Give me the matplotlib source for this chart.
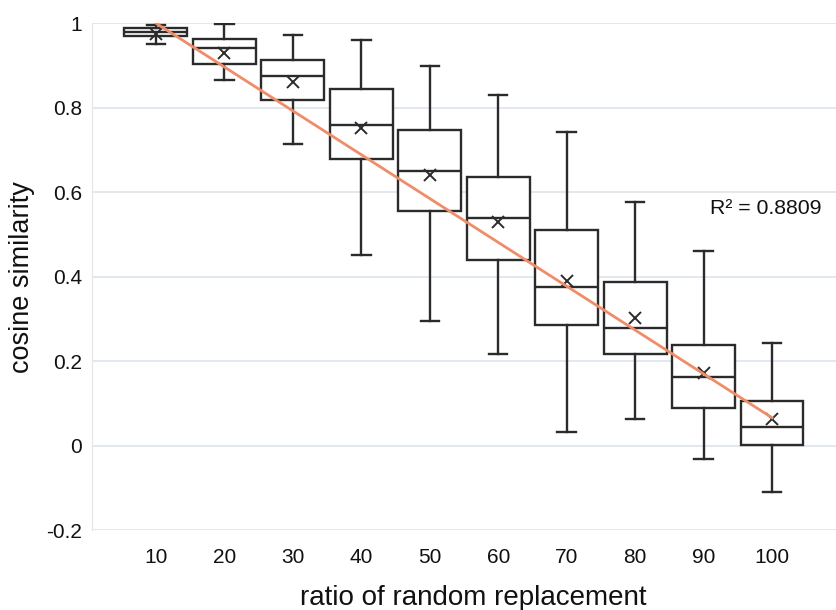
import matplotlib
matplotlib.use("Agg")
import matplotlib.pyplot as plt
import numpy as np

plt.rcParams['font.family'] = ['Liberation Sans', 'DejaVu Sans']

categories = ["10", "20", "30", "40", "50", "60", "70", "80", "90", "100"]
whisker_low = [0.951, 0.866, 0.713, 0.451, 0.294, 0.217, 0.032, 0.062, -0.031, -0.111]
q1 = [0.969, 0.903, 0.817, 0.679, 0.555, 0.440, 0.285, 0.217, 0.089, 0.002]
medians = [0.979, 0.941, 0.876, 0.760, 0.651, 0.539, 0.376, 0.279, 0.163, 0.045]
q3 = [0.988, 0.963, 0.914, 0.844, 0.748, 0.637, 0.511, 0.387, 0.237, 0.105]
whisker_high = [0.996, 0.997, 0.972, 0.961, 0.899, 0.830, 0.743, 0.577, 0.460, 0.243]
means = [0.975, 0.929, 0.860, 0.752, 0.641, 0.529, 0.389, 0.301, 0.173, 0.062]
trend_ends = [1.000, 0.066]  # trendline value at first and last category
r2_text = "R² = 0.8809"
yticks = [-0.2, 0, 0.2, 0.4, 0.6, 0.8, 1]
ytick_labels = ["-0.2", "0", "0.2", "0.4", "0.6", "0.8", "1"]

fig = plt.figure(figsize=(8.36, 6.10), dpi=100)
ax = fig.add_axes([0.110, 0.131, 0.890, 0.831])

pos = np.arange(1, len(categories) + 1)
stats = []
for i, c in enumerate(categories):
    stats.append(dict(label=c, whislo=whisker_low[i], q1=q1[i], med=medians[i],
                      q3=q3[i], whishi=whisker_high[i], mean=means[i], fliers=[]))

edge = '#2b2b2b'
lw = 1.7
ax.bxp(stats, positions=pos, widths=0.92, showmeans=True, patch_artist=True,
       boxprops=dict(facecolor='white', edgecolor=edge, linewidth=lw),
       medianprops=dict(color=edge, linewidth=lw),
       whiskerprops=dict(color=edge, linewidth=lw),
       capprops=dict(color=edge, linewidth=lw),
       capwidths=0.27,
       meanprops=dict(marker='x', markeredgecolor=edge, markersize=8, markeredgewidth=1.4),
       zorder=3)

ax.plot([pos[0], pos[-1]], trend_ends, color='#F28C66', linewidth=2.0, zorder=4)

ax.set_xlim(0.065, 10.935)
ax.set_ylim(-0.2, 1.0)
ax.set_yticks(yticks)
ax.set_yticklabels(ytick_labels)
ax.set_xticks(pos)
ax.set_xticklabels(categories)
ax.tick_params(axis='both', length=0, labelsize=15, colors='#111111')
ax.tick_params(axis='x', pad=13)
ax.tick_params(axis='y', pad=7)
ax.grid(axis='y', color='#dbe4ee', linewidth=1.2, zorder=0)
ax.set_axisbelow(True)
for s in ['top', 'right', 'bottom']:
    ax.spines[s].set_visible(False)
ax.spines['left'].set_color('#e2e6ea')

ax.set_xlabel("ratio of random replacement", fontsize=20, labelpad=9, color='#111111')
ax.xaxis.set_label_coords(0.512, -0.108)
ax.set_ylabel("cosine similarity", fontsize=19.5, labelpad=8, color='#111111')

ax.text(0.980, 0.634, r2_text, transform=ax.transAxes, ha='right', va='center',
        fontsize=15.3, color='#111111')

fig.savefig("out.png", dpi=100)
